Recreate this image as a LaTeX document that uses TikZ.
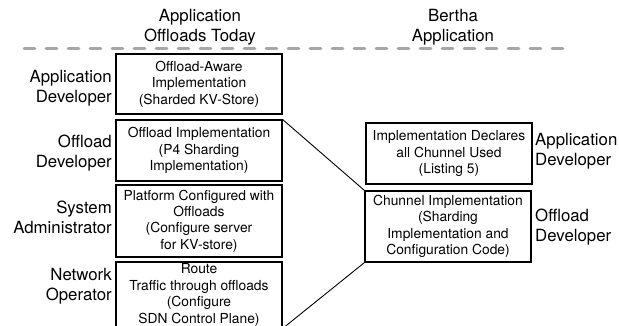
\documentclass[tikz,border=0pt]{standalone}
\usepackage{fontspec}
\setmainfont{TeX Gyre Heros}
\begin{document}
\begin{tikzpicture}[x=1pt,y=-1pt,
  box/.style={draw=black,line width=1.1pt,inner sep=0pt,align=center,
    font=\fontsize{13.8}{16.4}\selectfont},
  lab/.style={inner sep=0pt,font=\fontsize{16.8}{20}\selectfont},
  ttl/.style={inner sep=0pt,align=center,font=\fontsize{16.8}{20}\selectfont},
  conn/.style={line width=0.9pt,draw=black}]
\useasboundingbox (0,0) rectangle (619,326);
% titles
\node[ttl] (t1) at (200,27) {Application\\Offloads Today};
\node[ttl] (t2) at (453,27) {Bertha\\Application};
\coordinate (dl) at (24,48.5);
\coordinate (dr) at (573,48.5);
\draw[draw=black!35,line width=2.8pt,line cap=round,dash pattern=on 11pt off 11pt] (dl) -- (dr);
% left boxes
\node[box,minimum width=166,minimum height=60] (b1) at (199,84) {Offload-Aware\\Implementation\\(Sharded KV-Store)};
\node[box,minimum width=166,minimum height=61] (b2) at (199,150.5) {Offload Implementation\\(P4 Sharding\\Implementation)};
\node[box,minimum width=166,minimum height=72] (b3) at (199,221) {Platform Configured with\\Offloads\\(Configure server\\for KV-store)};
\node[box,minimum width=166,minimum height=66] (b4) at (199,295) {Route\\Traffic through offloads\\(Configure\\SDN Control Plane)};
% right boxes
\node[box,minimum width=166,minimum height=61] (r1) at (449,153.5) {Implementation Declares\\all Chunnel Used\\(Listing 5)};
\node[box,minimum width=166,minimum height=71] (r2) at (448,226.5) {Chunnel Implementation\\(Sharding\\Implementation and\\Configuration Code)};
% left labels
\node[lab,anchor=east,align=right] (l1) at (112,88) {Application\\Developer};
\node[lab,anchor=east,align=right] (l2) at (112,153) {Offload\\Developer};
\node[lab,anchor=east,align=right] (l3) at (112,217.5) {System\\Administrator};
\node[lab,anchor=east,align=right] (l4) at (112,286) {Network\\Operator};
% right labels
\node[lab,anchor=west,align=left] (m1) at (535,151.5) {Application\\Developer};
\node[lab,anchor=west,align=left] (m2) at (535,227) {Offload\\Developer};
% connectors
\draw[conn] (b2.north east) -- (r2.north west);
\draw[conn] (b4.south east) -- (r2.south west);
\end{tikzpicture}
\end{document}
